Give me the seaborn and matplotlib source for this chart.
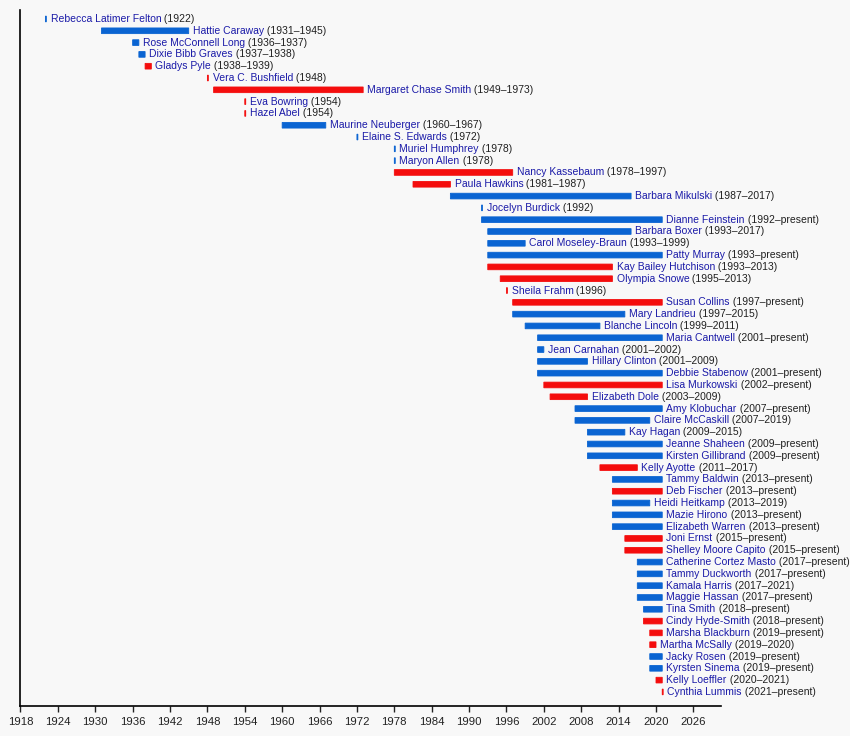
import seaborn as sns
import matplotlib.pyplot as plt

# senators, in order of first taking office
names = [
    "Rebecca Latimer Felton", "Hattie Caraway", "Rose McConnell Long", "Dixie Bibb Graves",
    "Gladys Pyle", "Vera C. Bushfield", "Margaret Chase Smith", "Eva Bowring", "Hazel Abel",
    "Maurine Neuberger", "Elaine S. Edwards", "Muriel Humphrey", "Maryon Allen",
    "Nancy Kassebaum", "Paula Hawkins", "Barbara Mikulski", "Jocelyn Burdick",
    "Dianne Feinstein", "Barbara Boxer", "Carol Moseley-Braun", "Patty Murray",
    "Kay Bailey Hutchison", "Olympia Snowe", "Sheila Frahm", "Susan Collins",
    "Mary Landrieu", "Blanche Lincoln", "Maria Cantwell", "Jean Carnahan", "Hillary Clinton",
    "Debbie Stabenow", "Lisa Murkowski", "Elizabeth Dole", "Amy Klobuchar", "Claire McCaskill",
    "Kay Hagan", "Jeanne Shaheen", "Kirsten Gillibrand", "Kelly Ayotte", "Tammy Baldwin",
    "Deb Fischer", "Heidi Heitkamp", "Mazie Hirono", "Elizabeth Warren", "Joni Ernst",
    "Shelley Moore Capito", "Catherine Cortez Masto", "Tammy Duckworth", "Kamala Harris",
    "Maggie Hassan", "Tina Smith", "Cindy Hyde-Smith", "Marsha Blackburn", "Martha McSally",
    "Jacky Rosen", "Kyrsten Sinema", "Kelly Loeffler", "Cynthia Lummis",
]
terms = [
    "(1922)", "(1931–1945)", "(1936–1937)", "(1937–1938)", "(1938–1939)", "(1948)",
    "(1949–1973)", "(1954)", "(1954)", "(1960–1967)", "(1972)", "(1978)", "(1978)",
    "(1978–1997)", "(1981–1987)", "(1987–2017)", "(1992)", "(1992–present)", "(1993–2017)",
    "(1993–1999)", "(1993–present)", "(1993–2013)", "(1995–2013)", "(1996)", "(1997–present)",
    "(1997–2015)", "(1999–2011)", "(2001–present)", "(2001–2002)", "(2001–2009)",
    "(2001–present)", "(2002–present)", "(2003–2009)", "(2007–present)", "(2007–2019)",
    "(2009–2015)", "(2009–present)", "(2009–present)", "(2011–2017)", "(2013–present)",
    "(2013–present)", "(2013–2019)", "(2013–present)", "(2013–present)", "(2015–present)",
    "(2015–present)", "(2017–present)", "(2017–present)", "(2017–2021)", "(2017–present)",
    "(2018–present)", "(2018–present)", "(2019–present)", "(2019–2020)", "(2019–present)",
    "(2019–present)", "(2020–2021)", "(2021–present)",
]
party = [
    "D", "D", "D", "D", "R", "R", "R", "R", "R", "D", "D", "D", "D", "R", "R", "D", "D",
    "D", "D", "D", "D", "R", "R", "R", "R", "D", "D", "D", "D", "D", "D", "R", "R", "D", "D",
    "D", "D", "D", "R", "D", "R", "D", "D", "D", "R", "R", "D", "D", "D", "D", "D", "R", "R",
    "R", "D", "D", "R", "R",
]
start = [
    1922, 1931, 1936, 1937, 1938, 1948, 1949, 1954, 1954, 1960, 1972, 1978, 1978, 1978,
    1981, 1987, 1992, 1992, 1993, 1993, 1993, 1993, 1995, 1996, 1997, 1997, 1999, 2001,
    2001, 2001, 2001, 2002, 2003, 2007, 2007, 2009, 2009, 2009, 2011, 2013, 2013, 2013,
    2013, 2013, 2015, 2015, 2017, 2017, 2017, 2017, 2018, 2018, 2019, 2019, 2019, 2019,
    2020, 2021,
]
end = [
    1922.15, 1945, 1937, 1938, 1939, 1948.15, 1973, 1954.15, 1954.15, 1967, 1972.15,
    1978.15, 1978.15, 1997, 1987, 2016, 1992.15, 2021, 2016, 1999, 2021, 2013, 2013,
    1996.15, 2021, 2015, 2011, 2021, 2002, 2009, 2021, 2021, 2009, 2021, 2019, 2015, 2021,
    2021, 2017, 2021, 2021, 2019, 2021, 2021, 2021, 2021, 2021, 2021, 2021, 2021, 2021,
    2021, 2021, 2020, 2021, 2021, 2021, 2021.15,
]
year_ticks = list(range(1918, 2027, 6))

party_colors = {"D": "#0a64d2", "R": "#f40d0d"}
name_color = "#1a1aa8"
bg = "#f8f8f8"

sns.set_style("ticks")
plt.rcParams["font.family"] = ["Liberation Sans", "DejaVu Sans"]

fig = plt.figure(figsize=(8.5, 7.36), dpi=100, facecolor=bg)
ax = fig.add_axes([0.0241, 0.0408, 0.8239, 0.9456], facecolor=bg)

rows = list(range(len(names)))
widths = [e - s for s, e in zip(start, end)]
bar_colors = [party_colors[p] for p in party]
ax.barh(rows, widths, left=start, height=0.48,
        color=bar_colors, edgecolor=bar_colors, linewidth=0.6, snap=False)

for i in rows:
    t = ax.annotate(names[i], xy=(end[i], i), xytext=(3.0, 0), textcoords="offset points",
                    va="center", ha="left", fontsize=7.5, color=name_color)
    ax.annotate(" " + terms[i], xy=(1, 0), xycoords=t, va="bottom", ha="left",
                fontsize=7.5, color="#202020")

ax.set_xlim(1918, 2030.4)
ax.set_ylim(58.19, -0.76)
ax.set_xticks(year_ticks)
ax.set_yticks([])
ax.tick_params(axis="x", labelsize=8.2, colors="#222222", length=4, width=1, pad=4)
sns.despine(ax=ax)
for s in ("left", "bottom"):
    ax.spines[s].set_color("black")
    ax.spines[s].set_linewidth(1.2)

fig.savefig("out.png", dpi=100, facecolor=bg)
